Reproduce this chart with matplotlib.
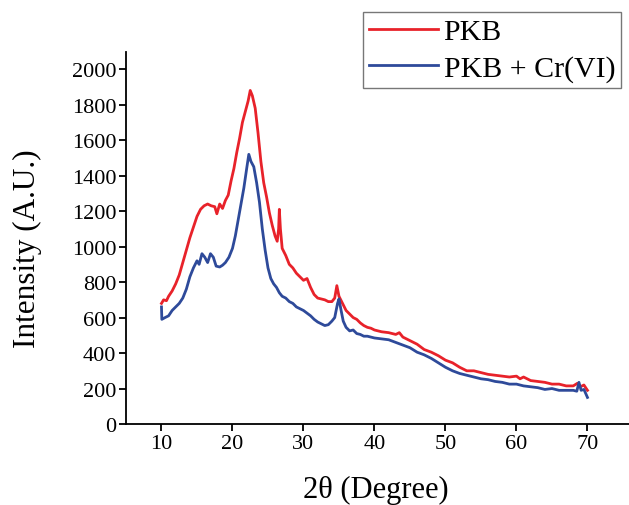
import matplotlib
matplotlib.use("Agg")
import matplotlib.pyplot as plt

plt.rcParams['font.family'] = ['Liberation Serif', 'DejaVu Serif']

series_names = ["PKB", "PKB + Cr(VI)"]

pkb_x = [10.0, 10.3, 10.7, 11.0, 11.5, 12.0, 12.5, 13.0, 13.5, 14.0, 14.5, 15.0, 15.5, 16.0,
         16.5, 17.0, 17.5, 17.8, 18.2, 18.6, 19.0, 19.4, 19.8, 20.2, 20.6, 21.0, 21.4, 21.8,
         22.2, 22.5, 22.8, 23.2, 23.6, 24.0, 24.4, 24.8, 25.2, 25.6, 26.0, 26.3, 26.5, 26.6,
         26.75, 27.0, 27.5, 28.0, 28.5, 29.0, 29.5, 30.0, 30.5, 31.0, 31.5, 32.0, 32.5, 33.0,
         33.5, 34.0, 34.4, 34.7, 35.0, 35.5, 36.0, 36.5, 37.0, 37.5, 38.0, 38.5, 39.0, 39.5,
         40.0, 41.0, 42.0, 43.0, 43.5, 44.0, 45.0, 46.0, 47.0, 48.0, 49.0, 50.0, 51.0, 52.0,
         53.0, 54.0, 55.0, 56.0, 57.0, 58.0, 59.0, 60.0, 60.5, 61.0, 62.0, 63.0, 64.0, 65.0,
         66.0, 67.0, 68.0, 68.6, 69.0, 69.5, 70.0]
pkb_y = [680, 700, 695, 720, 750, 790, 840, 910, 980, 1050, 1110, 1170, 1210, 1230,
         1240, 1230, 1225, 1185, 1240, 1215, 1260, 1290, 1370, 1440, 1530, 1610, 1700, 1760,
         1820, 1880, 1850, 1780, 1640, 1480, 1360, 1280, 1190, 1120, 1060, 1030, 1100, 1210,
         1100, 990, 950, 900, 880, 850, 830, 810, 820, 770, 730, 710, 705, 700,
         690, 690, 710, 780, 720, 680, 640, 620, 600, 590, 570, 555, 545, 540,
         530, 520, 515, 505, 515, 490, 470, 450, 420, 405, 385, 360, 345, 320,
         300, 300, 290, 280, 275, 270, 265, 270, 255, 265, 245, 240, 235, 225,
         225, 215, 215, 230, 210, 220, 190]

cr_x = [10.0, 10.05, 10.5, 11.0, 11.5, 12.0, 12.5, 13.0, 13.5, 14.0, 14.5, 15.0, 15.3, 15.7,
        16.1, 16.5, 16.9, 17.3, 17.7, 18.2, 18.6, 19.0, 19.5, 20.0, 20.4, 20.8, 21.2, 21.6,
        22.0, 22.3, 22.6, 23.0, 23.4, 23.8, 24.2, 24.6, 25.0, 25.4, 25.8, 26.2, 26.6, 27.0,
        27.5, 28.0, 28.5, 29.0, 29.5, 30.0, 30.5, 31.0, 31.5, 32.0, 32.5, 33.0, 33.5, 34.0,
        34.4, 34.8, 35.0, 35.3, 35.6, 36.0, 36.5, 37.0, 37.5, 38.0, 38.5, 39.0, 40.0, 41.0,
        42.0, 43.0, 44.0, 45.0, 46.0, 47.0, 48.0, 49.0, 50.0, 51.0, 52.0, 53.0, 54.0, 55.0,
        56.0, 57.0, 58.0, 59.0, 60.0, 61.0, 62.0, 63.0, 64.0, 65.0, 66.0, 67.0, 68.0, 68.5,
        68.8, 69.1, 69.5, 70.0]
cr_y = [660, 590, 600, 610, 640, 660, 680, 710, 760, 830, 880, 920, 900, 960,
        940, 910, 960, 940, 890, 885, 895, 910, 940, 990, 1060, 1150, 1240, 1330,
        1440, 1520, 1480, 1450, 1360, 1250, 1100, 980, 880, 820, 790, 770, 740, 720,
        710, 690, 680, 660, 650, 640, 625, 610, 590, 575, 565, 555, 560, 580,
        600, 680, 705, 640, 580, 545, 525, 530, 510, 505, 495, 495, 485, 480,
        475, 460, 445, 430, 405, 390, 370, 345, 320, 300, 285, 275, 265, 255,
        250, 240, 235, 225, 225, 215, 210, 205, 195, 200, 190, 190, 190, 185,
        235, 190, 195, 150]

x_ticks = [10, 20, 30, 40, 50, 60, 70]
y_ticks = [0, 200, 400, 600, 800, 1000, 1200, 1400, 1600, 1800, 2000]

fig = plt.figure(figsize=(6.29, 5.06), dpi=100)
ax = fig.add_axes([0.2003, 0.160, 0.7997, 0.735])

l1, = ax.plot(pkb_x, pkb_y, color='#e8222a', lw=2.0, label=series_names[0])
l2, = ax.plot(cr_x, cr_y, color='#2e4a9a', lw=2.0, label=series_names[1])

ax.set_xlim(5, 75.85)
ax.set_ylim(0, 2096)
ax.set_xticks(x_ticks)
ax.set_yticks(y_ticks)
ax.spines['top'].set_visible(False)
ax.spines['right'].set_visible(False)
ax.spines['left'].set_linewidth(1.3)
ax.spines['bottom'].set_linewidth(1.3)
ax.tick_params(direction='out', length=5, width=1.3, labelsize=16, pad=2)

ax.set_xlabel("2θ (Degree)", fontsize=22)
ax.set_ylabel("Intensity (A.U.)", fontsize=22.5)
ax.xaxis.label.set_va('center')
ax.yaxis.label.set_va('center')
ax.xaxis.set_label_coords(0.497, -0.175)
ax.yaxis.set_label_coords(-0.196, 0.473)

leg = fig.legend(handles=[l1, l2], loc='upper left', bbox_to_anchor=(0.577, 0.974),
                 fontsize=21.5, frameon=True, fancybox=False, edgecolor='#555555',
                 handlelength=2.3, handletextpad=0.2, borderpad=0.2, labelspacing=0.33,
                 borderaxespad=0)
leg.get_frame().set_linewidth(1.0)

fig.savefig("out.png", dpi=100)
